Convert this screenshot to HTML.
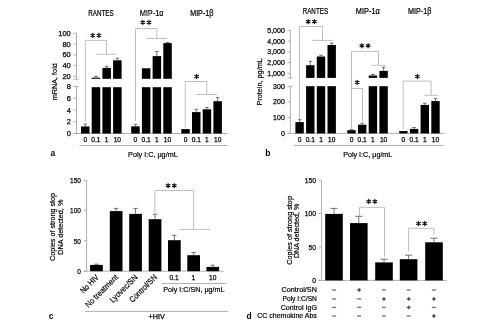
<!DOCTYPE html>
<html><head><meta charset="utf-8"><style>
html,body{margin:0;padding:0;background:#fff;}
body{width:496px;height:330px;overflow:hidden;}
svg{display:block;font-family:"Liberation Sans",sans-serif;filter:grayscale(1);}
text{stroke:#000;stroke-width:0.25px;}
text.lt{stroke-width:0.2px;}
text.tt{stroke-width:0.22px;}
</style></head><body>
<svg width="496" height="330" viewBox="0 0 496 330">
<rect width="496" height="330" fill="#fff"/>
<line x1="76.50" y1="33.30" x2="76.50" y2="79.20" stroke="#a8a8a8" stroke-width="0.9"/>
<line x1="76.50" y1="86.60" x2="76.50" y2="133.40" stroke="#a8a8a8" stroke-width="0.9"/>
<line x1="73.30" y1="33.30" x2="76.50" y2="33.30" stroke="#a8a8a8" stroke-width="0.9"/>
<text x="70.80" y="35.80" font-size="7.9" text-anchor="end" textLength="12.51" lengthAdjust="spacingAndGlyphs">100</text>
<line x1="73.30" y1="44.10" x2="76.50" y2="44.10" stroke="#a8a8a8" stroke-width="0.9"/>
<text x="70.80" y="46.60" font-size="7.9" text-anchor="end" textLength="8.34" lengthAdjust="spacingAndGlyphs">80</text>
<line x1="73.30" y1="54.90" x2="76.50" y2="54.90" stroke="#a8a8a8" stroke-width="0.9"/>
<text x="70.80" y="57.40" font-size="7.9" text-anchor="end" textLength="8.34" lengthAdjust="spacingAndGlyphs">60</text>
<line x1="73.30" y1="65.60" x2="76.50" y2="65.60" stroke="#a8a8a8" stroke-width="0.9"/>
<text x="70.80" y="68.10" font-size="7.9" text-anchor="end" textLength="8.34" lengthAdjust="spacingAndGlyphs">40</text>
<line x1="73.30" y1="76.40" x2="76.50" y2="76.40" stroke="#a8a8a8" stroke-width="0.9"/>
<text x="70.80" y="78.90" font-size="7.9" text-anchor="end" textLength="8.34" lengthAdjust="spacingAndGlyphs">20</text>
<line x1="73.30" y1="86.60" x2="76.50" y2="86.60" stroke="#a8a8a8" stroke-width="0.9"/>
<text x="70.80" y="89.10" font-size="7.9" text-anchor="end" textLength="4.17" lengthAdjust="spacingAndGlyphs">8</text>
<line x1="73.30" y1="98.30" x2="76.50" y2="98.30" stroke="#a8a8a8" stroke-width="0.9"/>
<text x="70.80" y="100.80" font-size="7.9" text-anchor="end" textLength="4.17" lengthAdjust="spacingAndGlyphs">6</text>
<line x1="73.30" y1="110.00" x2="76.50" y2="110.00" stroke="#a8a8a8" stroke-width="0.9"/>
<text x="70.80" y="112.50" font-size="7.9" text-anchor="end" textLength="4.17" lengthAdjust="spacingAndGlyphs">4</text>
<line x1="73.30" y1="121.70" x2="76.50" y2="121.70" stroke="#a8a8a8" stroke-width="0.9"/>
<text x="70.80" y="124.20" font-size="7.9" text-anchor="end" textLength="4.17" lengthAdjust="spacingAndGlyphs">2</text>
<line x1="73.30" y1="133.40" x2="76.50" y2="133.40" stroke="#a8a8a8" stroke-width="0.9"/>
<text x="70.80" y="135.90" font-size="7.9" text-anchor="end" textLength="4.17" lengthAdjust="spacingAndGlyphs">0</text>
<line x1="73.30" y1="79.20" x2="78.60" y2="79.20" stroke="#a8a8a8" stroke-width="0.9"/>
<line x1="76.50" y1="86.60" x2="78.60" y2="86.60" stroke="#a8a8a8" stroke-width="0.9"/>
<line x1="73.30" y1="133.50" x2="227.70" y2="133.50" stroke="#a8a8a8" stroke-width="0.9"/>
<line x1="79.50" y1="145.50" x2="227.50" y2="145.50" stroke="#a8a8a8" stroke-width="0.9"/>
<text x="101.00" y="16.00" font-size="8.4" text-anchor="middle" textLength="25.50" lengthAdjust="spacingAndGlyphs" class="tt">RANTES</text>
<text x="151.60" y="16.00" font-size="8.4" text-anchor="middle" textLength="23.70" lengthAdjust="spacingAndGlyphs" class="tt">MIP-1α</text>
<rect x="143.50" y="12.20" width="6.40" height="3.70" fill="#9c9c9c"/>
<text x="201.80" y="16.00" font-size="8.4" text-anchor="middle" textLength="23.30" lengthAdjust="spacingAndGlyphs" class="tt">MIP-1β</text>
<rect x="81.00" y="126.40" width="8.50" height="7.10" fill="#000"/>
<line x1="85.25" y1="126.40" x2="85.25" y2="124.00" stroke="#5a5a5a" stroke-width="0.85"/>
<line x1="83.45" y1="124.00" x2="87.05" y2="124.00" stroke="#5a5a5a" stroke-width="0.85"/>
<text x="85.25" y="141.90" font-size="7.2" text-anchor="middle" textLength="3.68" lengthAdjust="spacingAndGlyphs">0</text>
<rect x="91.70" y="87.20" width="8.50" height="46.30" fill="#000"/>
<rect x="91.70" y="77.60" width="8.50" height="1.20" fill="#000"/>
<line x1="95.95" y1="77.60" x2="95.95" y2="76.30" stroke="#5a5a5a" stroke-width="0.85"/>
<line x1="94.15" y1="76.30" x2="97.75" y2="76.30" stroke="#5a5a5a" stroke-width="0.85"/>
<text x="95.95" y="141.90" font-size="7.2" text-anchor="middle" textLength="9.21" lengthAdjust="spacingAndGlyphs">0.1</text>
<rect x="102.40" y="87.20" width="8.50" height="46.30" fill="#000"/>
<rect x="102.40" y="67.90" width="8.50" height="10.90" fill="#000"/>
<line x1="106.65" y1="67.90" x2="106.65" y2="66.40" stroke="#5a5a5a" stroke-width="0.85"/>
<line x1="104.85" y1="66.40" x2="108.45" y2="66.40" stroke="#5a5a5a" stroke-width="0.85"/>
<text x="106.65" y="141.90" font-size="7.2" text-anchor="middle" textLength="3.68" lengthAdjust="spacingAndGlyphs">1</text>
<rect x="113.10" y="87.20" width="8.50" height="46.30" fill="#000"/>
<rect x="113.10" y="60.30" width="8.50" height="18.50" fill="#000"/>
<line x1="117.35" y1="60.30" x2="117.35" y2="58.20" stroke="#5a5a5a" stroke-width="0.85"/>
<line x1="115.55" y1="58.20" x2="119.15" y2="58.20" stroke="#5a5a5a" stroke-width="0.85"/>
<text x="117.35" y="141.90" font-size="7.2" text-anchor="middle" textLength="7.37" lengthAdjust="spacingAndGlyphs">10</text>
<rect x="131.20" y="126.30" width="8.50" height="7.20" fill="#000"/>
<line x1="135.45" y1="126.30" x2="135.45" y2="124.30" stroke="#5a5a5a" stroke-width="0.85"/>
<line x1="133.65" y1="124.30" x2="137.25" y2="124.30" stroke="#5a5a5a" stroke-width="0.85"/>
<text x="135.45" y="141.90" font-size="7.2" text-anchor="middle" textLength="3.68" lengthAdjust="spacingAndGlyphs">0</text>
<rect x="141.90" y="87.20" width="8.50" height="46.30" fill="#000"/>
<rect x="141.90" y="68.30" width="8.50" height="10.50" fill="#000"/>
<text x="146.15" y="141.90" font-size="7.2" text-anchor="middle" textLength="9.21" lengthAdjust="spacingAndGlyphs">0.1</text>
<rect x="152.60" y="87.20" width="8.50" height="46.30" fill="#000"/>
<rect x="152.60" y="56.10" width="8.50" height="22.70" fill="#000"/>
<line x1="156.85" y1="56.10" x2="156.85" y2="51.50" stroke="#5a5a5a" stroke-width="0.85"/>
<line x1="155.05" y1="51.50" x2="158.65" y2="51.50" stroke="#5a5a5a" stroke-width="0.85"/>
<text x="156.85" y="141.90" font-size="7.2" text-anchor="middle" textLength="3.68" lengthAdjust="spacingAndGlyphs">1</text>
<rect x="163.30" y="87.20" width="8.50" height="46.30" fill="#000"/>
<rect x="163.30" y="43.10" width="8.50" height="35.70" fill="#000"/>
<line x1="167.55" y1="43.10" x2="167.55" y2="42.40" stroke="#5a5a5a" stroke-width="0.85"/>
<line x1="165.75" y1="42.40" x2="169.35" y2="42.40" stroke="#5a5a5a" stroke-width="0.85"/>
<text x="167.55" y="141.90" font-size="7.2" text-anchor="middle" textLength="7.37" lengthAdjust="spacingAndGlyphs">10</text>
<rect x="181.30" y="129.10" width="8.50" height="4.40" fill="#000"/>
<text x="185.55" y="141.90" font-size="7.2" text-anchor="middle" textLength="3.68" lengthAdjust="spacingAndGlyphs">0</text>
<rect x="192.00" y="112.10" width="8.50" height="21.40" fill="#000"/>
<line x1="196.25" y1="112.10" x2="196.25" y2="109.30" stroke="#5a5a5a" stroke-width="0.85"/>
<line x1="194.45" y1="109.30" x2="198.05" y2="109.30" stroke="#5a5a5a" stroke-width="0.85"/>
<text x="196.25" y="141.90" font-size="7.2" text-anchor="middle" textLength="9.21" lengthAdjust="spacingAndGlyphs">0.1</text>
<rect x="202.70" y="109.30" width="8.50" height="24.20" fill="#000"/>
<line x1="206.95" y1="109.30" x2="206.95" y2="107.50" stroke="#5a5a5a" stroke-width="0.85"/>
<line x1="205.15" y1="107.50" x2="208.75" y2="107.50" stroke="#5a5a5a" stroke-width="0.85"/>
<text x="206.95" y="141.90" font-size="7.2" text-anchor="middle" textLength="3.68" lengthAdjust="spacingAndGlyphs">1</text>
<rect x="213.40" y="101.20" width="8.50" height="32.30" fill="#000"/>
<line x1="217.65" y1="101.20" x2="217.65" y2="97.50" stroke="#5a5a5a" stroke-width="0.85"/>
<line x1="215.85" y1="97.50" x2="219.45" y2="97.50" stroke="#5a5a5a" stroke-width="0.85"/>
<text x="217.65" y="141.90" font-size="7.2" text-anchor="middle" textLength="7.37" lengthAdjust="spacingAndGlyphs">10</text>
<polyline points="85.30,122.00 85.30,40.40 106.50,40.40 106.50,54.30" fill="none" stroke="#b8b8b8" stroke-width="0.9"/>
<line x1="96.20" y1="54.30" x2="116.60" y2="54.30" stroke="#b8b8b8" stroke-width="0.9"/>
<path d="M92.70,33.30L92.70,37.50M90.88,34.35L94.52,36.45M94.52,34.35L90.88,36.45" stroke="#111" stroke-width="1.15" stroke-linecap="round"/>
<path d="M98.90,33.30L98.90,37.50M97.08,34.35L100.72,36.45M100.72,34.35L97.08,36.45" stroke="#111" stroke-width="1.15" stroke-linecap="round"/>
<polyline points="135.50,121.00 135.50,28.50 156.80,28.50 156.80,38.50" fill="none" stroke="#b8b8b8" stroke-width="0.9"/>
<line x1="146.20" y1="38.50" x2="166.80" y2="38.50" stroke="#b8b8b8" stroke-width="0.9"/>
<path d="M142.80,20.30L142.80,24.50M140.98,21.35L144.62,23.45M144.62,21.35L140.98,23.45" stroke="#111" stroke-width="1.15" stroke-linecap="round"/>
<path d="M149.00,20.30L149.00,24.50M147.18,21.35L150.82,23.45M150.82,21.35L147.18,23.45" stroke="#111" stroke-width="1.15" stroke-linecap="round"/>
<polyline points="185.30,126.90 185.30,81.50 206.80,81.50 206.80,94.50" fill="none" stroke="#b8b8b8" stroke-width="0.9"/>
<line x1="196.20" y1="94.50" x2="216.80" y2="94.50" stroke="#b8b8b8" stroke-width="0.9"/>
<path d="M196.60,74.40L196.60,78.60M194.78,75.45L198.42,77.55M198.42,75.45L194.78,77.55" stroke="#111" stroke-width="1.15" stroke-linecap="round"/>
<text x="152.90" y="157.00" font-size="7.6" text-anchor="middle" textLength="49.60" lengthAdjust="spacingAndGlyphs" class="lt">Poly I:C, μg/mL</text>
<text x="50.50" y="155.80" font-size="8.4" font-weight="bold" style="stroke:none">a</text>
<text transform="translate(57,81.7) rotate(-90)" class="lt" font-size="8" text-anchor="middle" textLength="36.9" lengthAdjust="spacingAndGlyphs">mRNA, fold</text>
<line x1="290.40" y1="30.30" x2="290.40" y2="78.00" stroke="#a8a8a8" stroke-width="0.9"/>
<line x1="290.40" y1="86.30" x2="290.40" y2="133.30" stroke="#a8a8a8" stroke-width="0.9"/>
<line x1="287.50" y1="30.30" x2="290.40" y2="30.30" stroke="#a8a8a8" stroke-width="0.9"/>
<text x="284.80" y="32.85" font-size="7.4" text-anchor="end" textLength="17.51" lengthAdjust="spacingAndGlyphs">5,000</text>
<line x1="287.50" y1="41.10" x2="290.40" y2="41.10" stroke="#a8a8a8" stroke-width="0.9"/>
<text x="284.80" y="43.65" font-size="7.4" text-anchor="end" textLength="17.51" lengthAdjust="spacingAndGlyphs">4,000</text>
<line x1="287.50" y1="51.90" x2="290.40" y2="51.90" stroke="#a8a8a8" stroke-width="0.9"/>
<text x="284.80" y="54.45" font-size="7.4" text-anchor="end" textLength="17.51" lengthAdjust="spacingAndGlyphs">3,000</text>
<line x1="287.50" y1="62.60" x2="290.40" y2="62.60" stroke="#a8a8a8" stroke-width="0.9"/>
<text x="284.80" y="65.15" font-size="7.4" text-anchor="end" textLength="17.51" lengthAdjust="spacingAndGlyphs">2,000</text>
<line x1="287.50" y1="73.40" x2="290.40" y2="73.40" stroke="#a8a8a8" stroke-width="0.9"/>
<text x="284.80" y="75.95" font-size="7.4" text-anchor="end" textLength="17.51" lengthAdjust="spacingAndGlyphs">1,000</text>
<line x1="287.50" y1="86.30" x2="290.40" y2="86.30" stroke="#a8a8a8" stroke-width="0.9"/>
<text x="284.80" y="88.85" font-size="7.4" text-anchor="end" textLength="11.68" lengthAdjust="spacingAndGlyphs">300</text>
<line x1="287.50" y1="101.90" x2="290.40" y2="101.90" stroke="#a8a8a8" stroke-width="0.9"/>
<text x="284.80" y="104.45" font-size="7.4" text-anchor="end" textLength="11.68" lengthAdjust="spacingAndGlyphs">200</text>
<line x1="287.50" y1="117.60" x2="290.40" y2="117.60" stroke="#a8a8a8" stroke-width="0.9"/>
<text x="284.80" y="120.15" font-size="7.4" text-anchor="end" textLength="11.68" lengthAdjust="spacingAndGlyphs">100</text>
<line x1="287.50" y1="133.30" x2="290.40" y2="133.30" stroke="#a8a8a8" stroke-width="0.9"/>
<text x="284.80" y="135.85" font-size="7.4" text-anchor="end" textLength="3.89" lengthAdjust="spacingAndGlyphs">0</text>
<line x1="287.50" y1="78.00" x2="292.80" y2="78.00" stroke="#a8a8a8" stroke-width="0.9"/>
<line x1="290.40" y1="86.30" x2="292.80" y2="86.30" stroke="#a8a8a8" stroke-width="0.9"/>
<line x1="287.50" y1="133.40" x2="444.70" y2="133.40" stroke="#a8a8a8" stroke-width="0.9"/>
<line x1="294.00" y1="145.40" x2="443.80" y2="145.40" stroke="#a8a8a8" stroke-width="0.9"/>
<text x="315.40" y="13.90" font-size="8.4" text-anchor="middle" textLength="25.50" lengthAdjust="spacingAndGlyphs" class="tt">RANTES</text>
<text x="367.80" y="13.90" font-size="8.4" text-anchor="middle" textLength="24.00" lengthAdjust="spacingAndGlyphs" class="tt">MIP-1α</text>
<text x="419.70" y="13.90" font-size="8.4" text-anchor="middle" textLength="23.30" lengthAdjust="spacingAndGlyphs" class="tt">MIP-1β</text>
<rect x="295.40" y="122.10" width="8.40" height="11.30" fill="#000"/>
<line x1="299.60" y1="122.10" x2="299.60" y2="119.70" stroke="#5a5a5a" stroke-width="0.85"/>
<line x1="297.80" y1="119.70" x2="301.40" y2="119.70" stroke="#5a5a5a" stroke-width="0.85"/>
<text x="299.60" y="141.90" font-size="7.2" text-anchor="middle" textLength="3.68" lengthAdjust="spacingAndGlyphs">0</text>
<rect x="306.10" y="86.20" width="8.40" height="47.20" fill="#000"/>
<rect x="306.10" y="65.20" width="8.40" height="12.70" fill="#000"/>
<line x1="310.30" y1="65.20" x2="310.30" y2="61.30" stroke="#5a5a5a" stroke-width="0.85"/>
<line x1="308.50" y1="61.30" x2="312.10" y2="61.30" stroke="#5a5a5a" stroke-width="0.85"/>
<text x="310.30" y="141.90" font-size="7.2" text-anchor="middle" textLength="9.21" lengthAdjust="spacingAndGlyphs">0.1</text>
<rect x="316.80" y="86.20" width="8.40" height="47.20" fill="#000"/>
<rect x="316.80" y="56.50" width="8.40" height="21.40" fill="#000"/>
<line x1="321.00" y1="56.50" x2="321.00" y2="55.30" stroke="#5a5a5a" stroke-width="0.85"/>
<line x1="319.20" y1="55.30" x2="322.80" y2="55.30" stroke="#5a5a5a" stroke-width="0.85"/>
<text x="321.00" y="141.90" font-size="7.2" text-anchor="middle" textLength="3.68" lengthAdjust="spacingAndGlyphs">1</text>
<rect x="327.50" y="86.20" width="8.40" height="47.20" fill="#000"/>
<rect x="327.50" y="45.00" width="8.40" height="32.90" fill="#000"/>
<line x1="331.70" y1="45.00" x2="331.70" y2="43.20" stroke="#5a5a5a" stroke-width="0.85"/>
<line x1="329.90" y1="43.20" x2="333.50" y2="43.20" stroke="#5a5a5a" stroke-width="0.85"/>
<text x="331.70" y="141.90" font-size="7.2" text-anchor="middle" textLength="7.37" lengthAdjust="spacingAndGlyphs">10</text>
<rect x="347.30" y="130.20" width="8.40" height="3.20" fill="#000"/>
<line x1="351.50" y1="130.20" x2="351.50" y2="129.40" stroke="#5a5a5a" stroke-width="0.85"/>
<line x1="349.70" y1="129.40" x2="353.30" y2="129.40" stroke="#5a5a5a" stroke-width="0.85"/>
<text x="351.50" y="141.90" font-size="7.2" text-anchor="middle" textLength="3.68" lengthAdjust="spacingAndGlyphs">0</text>
<rect x="358.00" y="124.70" width="8.40" height="8.70" fill="#000"/>
<line x1="362.20" y1="124.70" x2="362.20" y2="123.20" stroke="#5a5a5a" stroke-width="0.85"/>
<line x1="360.40" y1="123.20" x2="364.00" y2="123.20" stroke="#5a5a5a" stroke-width="0.85"/>
<text x="362.20" y="141.90" font-size="7.2" text-anchor="middle" textLength="9.21" lengthAdjust="spacingAndGlyphs">0.1</text>
<rect x="368.70" y="86.20" width="8.40" height="47.20" fill="#000"/>
<rect x="368.70" y="75.50" width="8.40" height="2.40" fill="#000"/>
<line x1="372.90" y1="75.50" x2="372.90" y2="74.50" stroke="#5a5a5a" stroke-width="0.85"/>
<line x1="371.10" y1="74.50" x2="374.70" y2="74.50" stroke="#5a5a5a" stroke-width="0.85"/>
<text x="372.90" y="141.90" font-size="7.2" text-anchor="middle" textLength="3.68" lengthAdjust="spacingAndGlyphs">1</text>
<rect x="379.40" y="86.20" width="8.40" height="47.20" fill="#000"/>
<rect x="379.40" y="70.90" width="8.40" height="7.00" fill="#000"/>
<line x1="383.60" y1="70.90" x2="383.60" y2="67.30" stroke="#5a5a5a" stroke-width="0.85"/>
<line x1="381.80" y1="67.30" x2="385.40" y2="67.30" stroke="#5a5a5a" stroke-width="0.85"/>
<text x="383.60" y="141.90" font-size="7.2" text-anchor="middle" textLength="7.37" lengthAdjust="spacingAndGlyphs">10</text>
<rect x="399.20" y="131.10" width="8.40" height="2.30" fill="#000"/>
<text x="403.40" y="141.90" font-size="7.2" text-anchor="middle" textLength="3.68" lengthAdjust="spacingAndGlyphs">0</text>
<rect x="409.90" y="128.90" width="8.40" height="4.50" fill="#000"/>
<line x1="414.10" y1="128.90" x2="414.10" y2="127.50" stroke="#5a5a5a" stroke-width="0.85"/>
<line x1="412.30" y1="127.50" x2="415.90" y2="127.50" stroke="#5a5a5a" stroke-width="0.85"/>
<text x="414.10" y="141.90" font-size="7.2" text-anchor="middle" textLength="9.21" lengthAdjust="spacingAndGlyphs">0.1</text>
<rect x="420.60" y="104.90" width="8.40" height="28.50" fill="#000"/>
<line x1="424.80" y1="104.90" x2="424.80" y2="103.20" stroke="#5a5a5a" stroke-width="0.85"/>
<line x1="423.00" y1="103.20" x2="426.60" y2="103.20" stroke="#5a5a5a" stroke-width="0.85"/>
<text x="424.80" y="141.90" font-size="7.2" text-anchor="middle" textLength="3.68" lengthAdjust="spacingAndGlyphs">1</text>
<rect x="431.30" y="101.10" width="8.40" height="32.30" fill="#000"/>
<line x1="435.50" y1="101.10" x2="435.50" y2="98.40" stroke="#5a5a5a" stroke-width="0.85"/>
<line x1="433.70" y1="98.40" x2="437.30" y2="98.40" stroke="#5a5a5a" stroke-width="0.85"/>
<text x="435.50" y="141.90" font-size="7.2" text-anchor="middle" textLength="7.37" lengthAdjust="spacingAndGlyphs">10</text>
<polyline points="299.50,119.10 299.50,26.50 322.50,26.50 322.50,40.40" fill="none" stroke="#b8b8b8" stroke-width="0.9"/>
<line x1="312.00" y1="40.40" x2="332.70" y2="40.40" stroke="#b8b8b8" stroke-width="0.9"/>
<path d="M308.20,19.50L308.20,23.70M306.38,20.55L310.02,22.65M310.02,20.55L306.38,22.65" stroke="#111" stroke-width="1.15" stroke-linecap="round"/>
<path d="M314.40,19.50L314.40,23.70M312.58,20.55L316.22,22.65M316.22,20.55L312.58,22.65" stroke="#111" stroke-width="1.15" stroke-linecap="round"/>
<polyline points="351.50,128.30 351.50,51.40 378.50,51.40 378.50,65.30" fill="none" stroke="#b8b8b8" stroke-width="0.9"/>
<line x1="371.30" y1="65.30" x2="385.80" y2="65.30" stroke="#b8b8b8" stroke-width="0.9"/>
<path d="M361.90,43.60L361.90,47.80M360.08,44.65L363.72,46.75M363.72,44.65L360.08,46.75" stroke="#111" stroke-width="1.15" stroke-linecap="round"/>
<path d="M368.10,43.60L368.10,47.80M366.28,44.65L369.92,46.75M369.92,44.65L366.28,46.75" stroke="#111" stroke-width="1.15" stroke-linecap="round"/>
<polyline points="351.50,88.50 362.50,88.50 362.50,121.00" fill="none" stroke="#b8b8b8" stroke-width="0.9"/>
<path d="M357.20,80.30L357.20,84.50M355.38,81.35L359.02,83.45M359.02,81.35L355.38,83.45" stroke="#111" stroke-width="1.15" stroke-linecap="round"/>
<polyline points="403.20,129.50 403.20,81.10 431.10,81.10 431.10,95.30" fill="none" stroke="#b8b8b8" stroke-width="0.9"/>
<line x1="424.10" y1="95.30" x2="438.30" y2="95.30" stroke="#b8b8b8" stroke-width="0.9"/>
<path d="M417.40,74.40L417.40,78.60M415.58,75.45L419.22,77.55M419.22,75.45L415.58,77.55" stroke="#111" stroke-width="1.15" stroke-linecap="round"/>
<text x="367.75" y="156.90" font-size="7.6" text-anchor="middle" textLength="49.20" lengthAdjust="spacingAndGlyphs" class="lt">Poly I:C, μg/mL</text>
<text x="265.30" y="155.80" font-size="8.6" font-weight="bold" style="stroke:none">b</text>
<text transform="translate(262.4,81.9) rotate(-90)" class="lt" font-size="8" text-anchor="middle" textLength="47.3" lengthAdjust="spacingAndGlyphs">Protein, pg/mL</text>
<line x1="86.60" y1="180.30" x2="86.60" y2="271.20" stroke="#a8a8a8" stroke-width="0.9"/>
<line x1="83.80" y1="180.30" x2="86.60" y2="180.30" stroke="#a8a8a8" stroke-width="0.9"/>
<text x="80.90" y="182.90" font-size="7.9" text-anchor="end" textLength="10.80" lengthAdjust="spacingAndGlyphs">150</text>
<line x1="83.80" y1="210.60" x2="86.60" y2="210.60" stroke="#a8a8a8" stroke-width="0.9"/>
<text x="80.90" y="213.20" font-size="7.9" text-anchor="end" textLength="10.80" lengthAdjust="spacingAndGlyphs">100</text>
<line x1="83.80" y1="240.90" x2="86.60" y2="240.90" stroke="#a8a8a8" stroke-width="0.9"/>
<text x="80.90" y="243.50" font-size="7.9" text-anchor="end" textLength="7.20" lengthAdjust="spacingAndGlyphs">50</text>
<line x1="83.80" y1="271.20" x2="86.60" y2="271.20" stroke="#a8a8a8" stroke-width="0.9"/>
<text x="80.90" y="273.80" font-size="7.9" text-anchor="end" textLength="3.60" lengthAdjust="spacingAndGlyphs">0</text>
<line x1="83.30" y1="271.20" x2="223.60" y2="271.20" stroke="#a8a8a8" stroke-width="0.9"/>
<rect x="90.10" y="264.90" width="12.70" height="6.30" fill="#000"/>
<line x1="96.45" y1="264.90" x2="96.45" y2="264.20" stroke="#5a5a5a" stroke-width="0.85"/>
<line x1="94.25" y1="264.20" x2="98.65" y2="264.20" stroke="#5a5a5a" stroke-width="0.85"/>
<rect x="109.80" y="211.10" width="12.70" height="60.10" fill="#000"/>
<line x1="116.15" y1="211.10" x2="116.15" y2="208.40" stroke="#5a5a5a" stroke-width="0.85"/>
<line x1="113.95" y1="208.40" x2="118.35" y2="208.40" stroke="#5a5a5a" stroke-width="0.85"/>
<rect x="129.20" y="213.90" width="12.70" height="57.30" fill="#000"/>
<line x1="135.55" y1="213.90" x2="135.55" y2="208.40" stroke="#5a5a5a" stroke-width="0.85"/>
<line x1="133.35" y1="208.40" x2="137.75" y2="208.40" stroke="#5a5a5a" stroke-width="0.85"/>
<rect x="148.70" y="219.20" width="12.70" height="52.00" fill="#000"/>
<line x1="155.05" y1="219.20" x2="155.05" y2="214.20" stroke="#5a5a5a" stroke-width="0.85"/>
<line x1="152.85" y1="214.20" x2="157.25" y2="214.20" stroke="#5a5a5a" stroke-width="0.85"/>
<rect x="168.00" y="240.20" width="12.70" height="31.00" fill="#000"/>
<line x1="174.35" y1="240.20" x2="174.35" y2="235.30" stroke="#5a5a5a" stroke-width="0.85"/>
<line x1="172.15" y1="235.30" x2="176.55" y2="235.30" stroke="#5a5a5a" stroke-width="0.85"/>
<rect x="187.30" y="255.20" width="12.70" height="16.00" fill="#000"/>
<line x1="193.65" y1="255.20" x2="193.65" y2="252.40" stroke="#5a5a5a" stroke-width="0.85"/>
<line x1="191.45" y1="252.40" x2="195.85" y2="252.40" stroke="#5a5a5a" stroke-width="0.85"/>
<rect x="206.40" y="266.90" width="12.70" height="4.30" fill="#000"/>
<line x1="212.75" y1="266.90" x2="212.75" y2="265.20" stroke="#5a5a5a" stroke-width="0.85"/>
<line x1="210.55" y1="265.20" x2="214.95" y2="265.20" stroke="#5a5a5a" stroke-width="0.85"/>
<polyline points="154.90,212.70 154.90,190.50 193.60,190.50 193.60,229.40" fill="none" stroke="#b8b8b8" stroke-width="0.9"/>
<line x1="179.00" y1="229.40" x2="210.20" y2="229.40" stroke="#b8b8b8" stroke-width="0.9"/>
<path d="M168.10,183.50L168.10,187.70M166.28,184.55L169.92,186.65M169.92,184.55L166.28,186.65" stroke="#111" stroke-width="1.15" stroke-linecap="round"/>
<path d="M174.30,183.50L174.30,187.70M172.48,184.55L176.12,186.65M176.12,184.55L172.48,186.65" stroke="#111" stroke-width="1.15" stroke-linecap="round"/>
<text transform="translate(99.30,277.90) rotate(-45)" class="lt" font-size="8.2" text-anchor="end" textLength="22.4" lengthAdjust="spacingAndGlyphs">No HIV</text>
<text transform="translate(118.60,277.90) rotate(-45)" class="lt" font-size="8.2" text-anchor="end" textLength="42.6" lengthAdjust="spacingAndGlyphs">No treatment</text>
<text transform="translate(138.20,277.90) rotate(-45)" class="lt" font-size="8.2" text-anchor="end" textLength="35.8" lengthAdjust="spacingAndGlyphs">Lyovec/SN</text>
<text transform="translate(157.70,277.90) rotate(-45)" class="lt" font-size="8.2" text-anchor="end" textLength="35.6" lengthAdjust="spacingAndGlyphs">Control/SN</text>
<text x="174.00" y="280.00" font-size="7.2" text-anchor="middle" textLength="9.21" lengthAdjust="spacingAndGlyphs">0.1</text>
<text x="193.40" y="280.00" font-size="7.2" text-anchor="middle" textLength="3.68" lengthAdjust="spacingAndGlyphs">1</text>
<text x="212.80" y="280.00" font-size="7.2" text-anchor="middle" textLength="7.37" lengthAdjust="spacingAndGlyphs">10</text>
<line x1="161.70" y1="283.50" x2="226.60" y2="283.50" stroke="#a8a8a8" stroke-width="0.9"/>
<text x="193.90" y="292.10" font-size="7.6" text-anchor="middle" textLength="61.20" lengthAdjust="spacingAndGlyphs" class="lt">Poly I:C/SN, μg/mL</text>
<line x1="85.20" y1="311.40" x2="228.20" y2="311.40" stroke="#a8a8a8" stroke-width="0.9"/>
<text x="156.70" y="318.90" font-size="7.2" text-anchor="middle" textLength="16.20" lengthAdjust="spacingAndGlyphs">+HIV</text>
<text x="48.80" y="319.10" font-size="8.4" font-weight="bold" style="stroke:none">c</text>
<text transform="translate(54.6,227.0) rotate(-90)" class="lt" font-size="7.6" text-anchor="middle" textLength="68.1" lengthAdjust="spacingAndGlyphs">Copies of strong stop</text>
<text transform="translate(62.8,227.2) rotate(-90)" class="lt" font-size="7.6" text-anchor="middle" textLength="55.0" lengthAdjust="spacingAndGlyphs">DNA detected, %</text>
<line x1="321.50" y1="180.30" x2="321.50" y2="280.40" stroke="#a8a8a8" stroke-width="0.9"/>
<line x1="318.50" y1="180.30" x2="321.50" y2="180.30" stroke="#a8a8a8" stroke-width="0.9"/>
<text x="316.00" y="182.95" font-size="8.1" text-anchor="end" textLength="11.25" lengthAdjust="spacingAndGlyphs">150</text>
<line x1="318.50" y1="213.60" x2="321.50" y2="213.60" stroke="#a8a8a8" stroke-width="0.9"/>
<text x="316.00" y="216.25" font-size="8.1" text-anchor="end" textLength="11.25" lengthAdjust="spacingAndGlyphs">100</text>
<line x1="318.50" y1="247.00" x2="321.50" y2="247.00" stroke="#a8a8a8" stroke-width="0.9"/>
<text x="316.00" y="249.65" font-size="8.1" text-anchor="end" textLength="7.50" lengthAdjust="spacingAndGlyphs">50</text>
<line x1="318.50" y1="280.40" x2="321.50" y2="280.40" stroke="#a8a8a8" stroke-width="0.9"/>
<text x="316.00" y="283.05" font-size="8.1" text-anchor="end" textLength="3.75" lengthAdjust="spacingAndGlyphs">0</text>
<line x1="318.20" y1="280.40" x2="447.00" y2="280.40" stroke="#a8a8a8" stroke-width="0.9"/>
<rect x="325.20" y="213.90" width="17.60" height="66.50" fill="#000"/>
<line x1="334.00" y1="213.90" x2="334.00" y2="208.40" stroke="#5a5a5a" stroke-width="0.85"/>
<line x1="330.40" y1="208.40" x2="337.60" y2="208.40" stroke="#5a5a5a" stroke-width="0.85"/>
<rect x="350.00" y="223.10" width="17.60" height="57.30" fill="#000"/>
<line x1="358.80" y1="223.10" x2="358.80" y2="216.30" stroke="#5a5a5a" stroke-width="0.85"/>
<line x1="355.20" y1="216.30" x2="362.40" y2="216.30" stroke="#5a5a5a" stroke-width="0.85"/>
<rect x="375.20" y="262.40" width="17.60" height="18.00" fill="#000"/>
<line x1="384.00" y1="262.40" x2="384.00" y2="259.20" stroke="#5a5a5a" stroke-width="0.85"/>
<line x1="380.40" y1="259.20" x2="387.60" y2="259.20" stroke="#5a5a5a" stroke-width="0.85"/>
<rect x="399.80" y="259.20" width="17.60" height="21.20" fill="#000"/>
<line x1="408.60" y1="259.20" x2="408.60" y2="255.20" stroke="#5a5a5a" stroke-width="0.85"/>
<line x1="405.00" y1="255.20" x2="412.20" y2="255.20" stroke="#5a5a5a" stroke-width="0.85"/>
<rect x="425.20" y="242.30" width="17.60" height="38.10" fill="#000"/>
<line x1="434.00" y1="242.30" x2="434.00" y2="238.20" stroke="#5a5a5a" stroke-width="0.85"/>
<line x1="430.40" y1="238.20" x2="437.60" y2="238.20" stroke="#5a5a5a" stroke-width="0.85"/>
<polyline points="359.50,216.30 359.50,207.40 384.50,207.40 384.50,256.80" fill="none" stroke="#b8b8b8" stroke-width="0.9"/>
<path d="M368.70,199.40L368.70,203.60M366.88,200.45L370.52,202.55M370.52,200.45L366.88,202.55" stroke="#111" stroke-width="1.15" stroke-linecap="round"/>
<path d="M374.90,199.40L374.90,203.60M373.08,200.45L376.72,202.55M376.72,200.45L373.08,202.55" stroke="#111" stroke-width="1.15" stroke-linecap="round"/>
<polyline points="408.60,251.50 408.60,228.30 433.90,228.30 433.90,234.80" fill="none" stroke="#b8b8b8" stroke-width="0.9"/>
<path d="M418.50,221.40L418.50,225.60M416.68,222.45L420.32,224.55M420.32,222.45L416.68,224.55" stroke="#111" stroke-width="1.15" stroke-linecap="round"/>
<path d="M424.70,221.40L424.70,225.60M422.88,222.45L426.52,224.55M426.52,222.45L422.88,224.55" stroke="#111" stroke-width="1.15" stroke-linecap="round"/>
<text x="316.90" y="292.10" font-size="7.3" text-anchor="end" textLength="35.30" lengthAdjust="spacingAndGlyphs" class="lt">Control/SN</text>
<rect x="332.10" y="289.30" width="4.00" height="1.40" fill="#7a7a7a"/>
<circle cx="359.10" cy="290.00" r="1.25" fill="#444"/>
<rect x="357.20" y="289.45" width="3.80" height="1.10" fill="#555"/>
<rect x="358.55" y="288.10" width="1.10" height="3.80" fill="#555"/>
<rect x="381.90" y="289.30" width="4.00" height="1.40" fill="#7a7a7a"/>
<rect x="406.70" y="289.30" width="4.00" height="1.40" fill="#7a7a7a"/>
<rect x="431.90" y="289.30" width="4.00" height="1.40" fill="#7a7a7a"/>
<text x="316.90" y="301.00" font-size="7.3" text-anchor="end" textLength="34.40" lengthAdjust="spacingAndGlyphs" class="lt">Poly I:C/SN</text>
<rect x="332.10" y="298.20" width="4.00" height="1.40" fill="#7a7a7a"/>
<rect x="357.10" y="298.20" width="4.00" height="1.40" fill="#7a7a7a"/>
<circle cx="383.90" cy="298.90" r="1.25" fill="#444"/>
<rect x="382.00" y="298.35" width="3.80" height="1.10" fill="#555"/>
<rect x="383.35" y="297.00" width="1.10" height="3.80" fill="#555"/>
<circle cx="408.70" cy="298.90" r="1.25" fill="#444"/>
<rect x="406.80" y="298.35" width="3.80" height="1.10" fill="#555"/>
<rect x="408.15" y="297.00" width="1.10" height="3.80" fill="#555"/>
<circle cx="433.90" cy="298.90" r="1.25" fill="#444"/>
<rect x="432.00" y="298.35" width="3.80" height="1.10" fill="#555"/>
<rect x="433.35" y="297.00" width="1.10" height="3.80" fill="#555"/>
<text x="316.90" y="309.50" font-size="7.3" text-anchor="end" textLength="36.20" lengthAdjust="spacingAndGlyphs" class="lt">Control IgG</text>
<rect x="332.10" y="306.70" width="4.00" height="1.40" fill="#7a7a7a"/>
<rect x="357.10" y="306.70" width="4.00" height="1.40" fill="#7a7a7a"/>
<rect x="381.90" y="306.70" width="4.00" height="1.40" fill="#7a7a7a"/>
<circle cx="408.70" cy="307.40" r="1.25" fill="#444"/>
<rect x="406.80" y="306.85" width="3.80" height="1.10" fill="#555"/>
<rect x="408.15" y="305.50" width="1.10" height="3.80" fill="#555"/>
<rect x="431.90" y="306.70" width="4.00" height="1.40" fill="#7a7a7a"/>
<text x="316.90" y="318.20" font-size="7.3" text-anchor="end" textLength="59.70" lengthAdjust="spacingAndGlyphs" class="lt">CC chemokine Abs</text>
<rect x="332.10" y="315.40" width="4.00" height="1.40" fill="#7a7a7a"/>
<rect x="357.10" y="315.40" width="4.00" height="1.40" fill="#7a7a7a"/>
<rect x="381.90" y="315.40" width="4.00" height="1.40" fill="#7a7a7a"/>
<rect x="406.70" y="315.40" width="4.00" height="1.40" fill="#7a7a7a"/>
<circle cx="433.90" cy="316.10" r="1.25" fill="#444"/>
<rect x="432.00" y="315.55" width="3.80" height="1.10" fill="#555"/>
<rect x="433.35" y="314.20" width="1.10" height="3.80" fill="#555"/>
<text x="246.60" y="318.50" font-size="8.4" font-weight="bold" style="stroke:none">d</text>
<text transform="translate(292.0,230.4) rotate(-90)" class="lt" font-size="7.6" text-anchor="middle" textLength="68.7" lengthAdjust="spacingAndGlyphs">Copies of strong stop</text>
<text transform="translate(299.4,230.9) rotate(-90)" class="lt" font-size="7.6" text-anchor="middle" textLength="54.3" lengthAdjust="spacingAndGlyphs">DNA detected, %</text>
</svg>
</body></html>
